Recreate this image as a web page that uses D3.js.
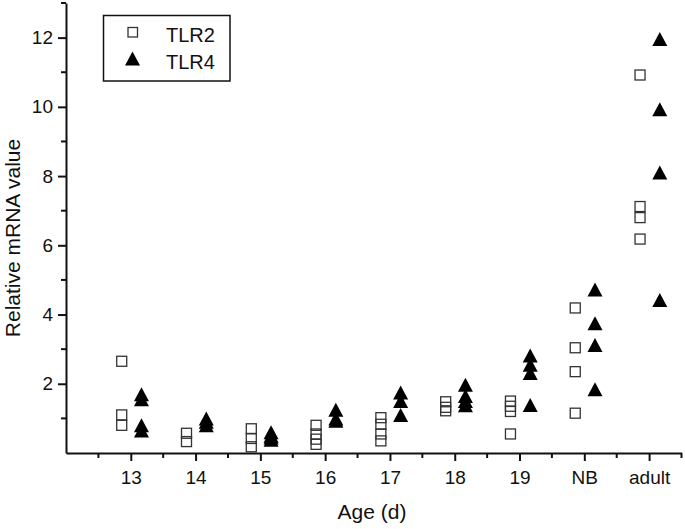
<!DOCTYPE html>
<html>
<head>
<meta charset="utf-8">
<script src="https://cdn.jsdelivr.net/npm/d3@7"></script>
<style>
  body { margin: 0; background: #fff; }
  text { font-family: "Liberation Sans", Arial, sans-serif; fill: #111; }
</style>
</head>
<body>
<script>
// age groups on the x axis
var categories = ["13", "14", "15", "16", "17", "18", "19", "NB", "adult"];
// TLR2 relative mRNA values per age group
var tlr2 = [
  [2.65, 1.1, 0.8],
  [0.57, 0.33],
  [0.7, 0.42, 0.18],
  [0.8, 0.55, 0.4, 0.25],
  [1.02, 0.83, 0.55, 0.35],
  [1.48, 1.32, 1.22],
  [1.5, 1.35, 1.2, 0.55],
  [4.19, 3.04, 2.35, 1.15],
  [10.92, 7.12, 6.8, 6.18]
];
// TLR4 relative mRNA values per age group
var tlr4 = [
  [1.7, 1.55, 0.8, 0.65],
  [1.0, 0.9, 0.8],
  [0.6, 0.5, 0.45, 0.38],
  [1.25, 1.0, 0.93],
  [1.75, 1.5, 1.1],
  [1.97, 1.65, 1.5, 1.38],
  [2.82, 2.55, 2.31, 1.39],
  [4.72, 3.75, 3.12, 1.84],
  [11.96, 9.93, 8.1, 4.42]
];
var yMajor = [2, 4, 6, 8, 10, 12];
var yMinor = [1, 3, 5, 7, 9, 11, 13];

var width = 685, height = 529;

var svg = d3.select("body").append("svg")
    .attr("width", width)
    .attr("height", height);

svg.append("rect").attr("width", width).attr("height", height).attr("fill", "#fff");

var x = d3.scaleLinear().domain([-1, 8.5]).range([66, 681.5]);
var y = d3.scaleLinear().domain([0, 13]).range([453, 3]);

// flatten points
var pts2 = [], pts4 = [];
tlr2.forEach(function(vals, i){ vals.forEach(function(v){ pts2.push({i: i, v: v}); }); });
tlr4.forEach(function(vals, i){ vals.forEach(function(v){ pts4.push({i: i, v: v}); }); });

// y axis
var yAxis = d3.axisLeft(y).tickValues(yMajor).tickSize(8).tickPadding(5).tickSizeOuter(0);
var gy = svg.append("g").attr("transform", "translate(" + x(-1) + ",0)").call(yAxis);
gy.selectAll(".tick text").style("font-size", "19px").attr("fill", "#111");
gy.selectAll(".tick line").attr("stroke", "#111").attr("stroke-width", 2);
gy.select(".domain").attr("stroke", "#111").attr("stroke-width", 2);
gy.selectAll(".minor").data(yMinor).enter().append("line")
    .attr("class", "minor")
    .attr("x1", -5).attr("x2", 0)
    .attr("y1", function(d){ return y(d); }).attr("y2", function(d){ return y(d); })
    .attr("stroke", "#111").attr("stroke-width", 2);

// x axis
var xAxis = d3.axisBottom(x).tickValues(d3.range(0, 9))
    .tickFormat(function(d){ return categories[d]; })
    .tickSize(8).tickPadding(10).tickSizeOuter(0);
var gx = svg.append("g").attr("transform", "translate(0," + y(0) + ")").call(xAxis);
gx.selectAll(".tick text").style("font-size", "19px").attr("fill", "#111");
gx.selectAll(".tick line").attr("stroke", "#111").attr("stroke-width", 2);
gx.select(".domain").attr("stroke", "#111").attr("stroke-width", 2);
gx.selectAll(".minor").data(d3.range(-0.5, 9, 1)).enter().append("line")
    .attr("class", "minor")
    .attr("x1", function(d){ return x(d); }).attr("x2", function(d){ return x(d); })
    .attr("y1", 0).attr("y2", 5)
    .attr("stroke", "#111").attr("stroke-width", 2);

// axis titles
svg.append("text")
    .attr("x", 372).attr("y", 519)
    .attr("text-anchor", "middle")
    .style("font-size", "21px")
    .text("Age (d)");
svg.append("text")
    .attr("transform", "translate(20,238) rotate(-90)")
    .attr("text-anchor", "middle")
    .style("font-size", "21px")
    .text("Relative mRNA value");

function tri(cx, cy){
  return "M" + cx + "," + (cy - 7) + "L" + (cx + 7.5) + "," + (cy + 7) + "L" + (cx - 7.5) + "," + (cy + 7) + "Z";
}

// TLR4 triangles
svg.append("g").selectAll("path").data(pts4).enter().append("path")
    .attr("d", function(d){ return tri(x(d.i + 0.165), y(d.v)); })
    .attr("fill", "#000");

// TLR2 squares
svg.append("g").selectAll("rect").data(pts2).enter().append("rect")
    .attr("x", function(d){ return x(d.i - 0.14) - 5; })
    .attr("y", function(d){ return y(d.v) - 5; })
    .attr("width", 10).attr("height", 10)
    .attr("fill", "#fff").attr("fill-opacity", 0)
    .attr("stroke", "#333").attr("stroke-width", 1.3);

// legend
var lg = svg.append("g");
lg.append("rect").attr("x", 103.5).attr("y", 15.5).attr("width", 126.5).attr("height", 65.5)
    .attr("fill", "#fff").attr("stroke", "#111").attr("stroke-width", 1.5);
lg.append("rect").attr("x", 128).attr("y", 27.5).attr("width", 9.5).attr("height", 9.5)
    .attr("fill", "#fff").attr("stroke", "#333").attr("stroke-width", 1.3);
lg.append("path").attr("d", tri(132.5, 58.5)).attr("fill", "#000");
lg.append("text").attr("x", 166).attr("y", 42).style("font-size", "20px").text("TLR2");
lg.append("text").attr("x", 166).attr("y", 69).style("font-size", "20px").text("TLR4");
</script>
</body>
</html>
